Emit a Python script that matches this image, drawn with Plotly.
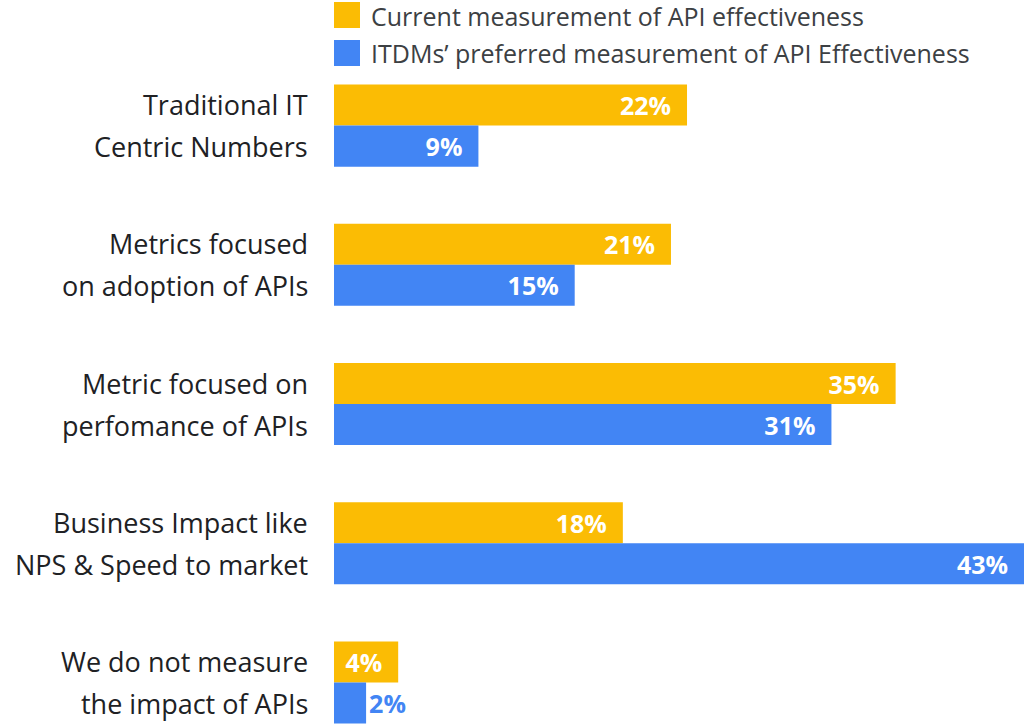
import plotly.graph_objects as go

categories = [
    ["Traditional IT", "Centric Numbers"],
    ["Metrics focused", "on adoption of APIs"],
    ["Metric focused on", "perfomance of APIs"],
    ["Business Impact like", "NPS & Speed to market"],
    ["We do not measure", "the impact of APIs"],
]
cat_keys = [" ".join(c) for c in categories]
current = [22, 21, 35, 18, 4]
preferred = [9, 15, 31, 43, 2]
series_names = ["Current measurement of API effectiveness",
                "ITDMs\u2019 preferred measurement of API Effectiveness"]
colors = ["#FBBC04", "#4285F4"]

FONT = "Open Sans"
XMAX = 43
PLOT_W = 690
fig = go.Figure()
for vals, name, col in zip([current, preferred], series_names, colors):
    # labels that do not fit inside a short bar are placed just outside it
    positions = ["inside" if v * PLOT_W / XMAX > 50 else "outside" for v in vals]
    fig.add_trace(go.Bar(
        y=cat_keys, x=vals, orientation="h", name=name,
        marker=dict(color=col, line=dict(width=0)),
        text=[f"{v}%\u00a0\u00a0" if p == "inside" else f"{v}%" for v, p in zip(vals, positions)],
        textposition=positions, insidetextanchor="end",
        textangle=0, constraintext="none", cliponaxis=False,
        insidetextfont=dict(family=FONT, size=25, color="white", weight="bold"),
        outsidetextfont=dict(family=FONT, size=25, color=col, weight="bold"),
        showlegend=False,
    ))

# category labels (two lines each)
for key, lines in zip(cat_keys, categories):
    for i, line in enumerate(lines):
        fig.add_annotation(
            x=0, xref="paper", y=key, yref="y",
            text=line, showarrow=False, xanchor="right", yanchor="middle",
            xshift=-24, yshift=21 if i == 0 else -21,
            font=dict(family=FONT, size=27, color="#202124"),
        )

# legend
for i, (name, col) in enumerate(zip(series_names, colors)):
    y0 = 2 + i * 38
    fig.add_shape(type="rect", xref="paper", yref="paper",
                  x0=0, x1=26 / PLOT_W, y0=1 + (56 - y0) / 671, y1=1 + (56 - y0 - 26) / 671,
                  fillcolor=col, line=dict(width=0), layer="above")
    fig.add_annotation(x=36 / PLOT_W, xref="paper", y=1 + (56 - y0 - 13.5) / 671, yref="paper",
                       text=name, showarrow=False, xanchor="left", yanchor="middle",
                       borderpad=0,
                       font=dict(family=FONT, size=25, color="#3c4043"))

fig.update_layout(
    width=1024, height=727,
    margin=dict(l=334, r=0, t=56, b=0),
    paper_bgcolor="white", plot_bgcolor="white",
    barmode="group", bargap=0.411, bargroupgap=0,
    xaxis=dict(range=[0, XMAX], visible=False, fixedrange=True),
    yaxis=dict(range=[4.319, -0.5], showticklabels=False, showgrid=False,
               zeroline=False, showline=False, ticks=""),
    uniformtext=dict(minsize=8, mode="show"),
)
fig.write_html("out.html")
